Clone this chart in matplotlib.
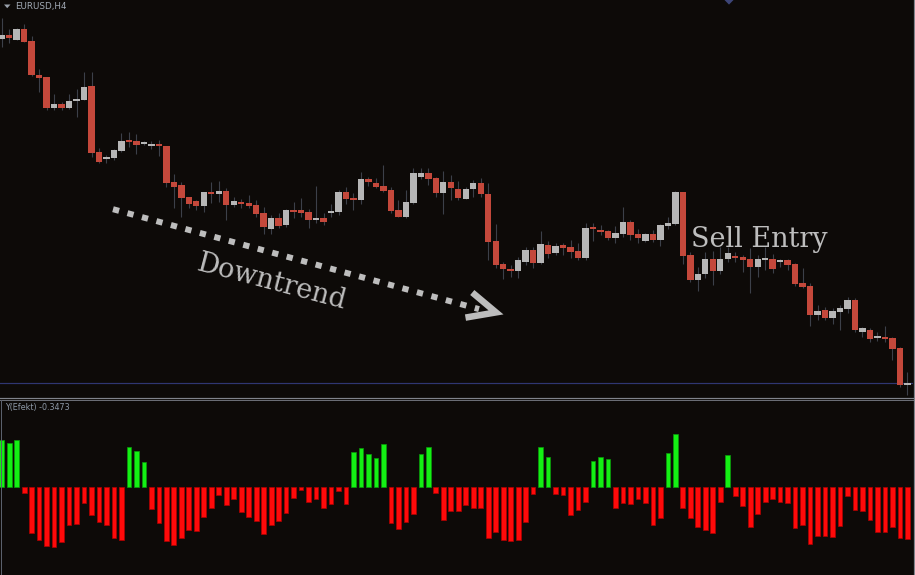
import numpy as np
import matplotlib
matplotlib.use("Agg")
import matplotlib.pyplot as plt
from matplotlib.lines import Line2D
from matplotlib.patches import Polygon

# ---------------- data ----------------
symbol_label = "EURUSD,H4"
indicator_label = "Y(Efekt) -0.3473"

opens = [1.1361, 1.1365, 1.1360, 1.1371, 1.1359, 1.1325, 1.1323, 1.1292, 1.1296, 1.1292,
         1.1299, 1.1300, 1.1314, 1.1248, 1.1241, 1.1242, 1.1249, 1.1259, 1.1259, 1.1256,
         1.1254, 1.1256, 1.1254, 1.1218, 1.1215, 1.1203, 1.1199, 1.1194, 1.1208, 1.1206,
         1.1209, 1.1195, 1.1197, 1.1197, 1.1195, 1.1187, 1.1171, 1.1182, 1.1175, 1.1190,
         1.1190, 1.1188, 1.1180, 1.1182, 1.1187, 1.1188, 1.1208, 1.1202, 1.1200, 1.1221,
         1.1217, 1.1214, 1.1210, 1.1190, 1.1183, 1.1197, 1.1223, 1.1227, 1.1222, 1.1207,
         1.1218, 1.1211, 1.1201, 1.1211, 1.1217, 1.1206, 1.1159, 1.1136, 1.1131, 1.1129,
         1.1138, 1.1150, 1.1137, 1.1155, 1.1147, 1.1155, 1.1153, 1.1149, 1.1142, 1.1172,
         1.1170, 1.1169, 1.1162, 1.1166, 1.1178, 1.1166, 1.1159, 1.1166, 1.1160, 1.1174,
         1.1176, 1.1208, 1.1145, 1.1120, 1.1126, 1.1141, 1.1129, 1.1141, 1.1144, 1.1143,
         1.1141, 1.1133, 1.1140, 1.1141, 1.1138, 1.1140, 1.1136, 1.1117, 1.1114, 1.1085,
         1.1090, 1.1082, 1.1088, 1.1091, 1.1100, 1.1068, 1.1070, 1.1062, 1.1063, 1.1062,
         1.1052, 1.1015]

closes = [1.1365, 1.1362, 1.1371, 1.1358, 1.1325, 1.1322, 1.1292, 1.1296, 1.1292, 1.1299,
          1.1301, 1.1313, 1.1247, 1.1238, 1.1243, 1.1250, 1.1259, 1.1258, 1.1255, 1.1258,
          1.1256, 1.1254, 1.1217, 1.1213, 1.1202, 1.1196, 1.1194, 1.1208, 1.1206, 1.1209,
          1.1195, 1.1199, 1.1196, 1.1194, 1.1186, 1.1173, 1.1182, 1.1174, 1.1190, 1.1188,
          1.1187, 1.1180, 1.1182, 1.1178, 1.1189, 1.1208, 1.1201, 1.1200, 1.1221, 1.1218,
          1.1213, 1.1209, 1.1189, 1.1183, 1.1198, 1.1227, 1.1227, 1.1221, 1.1207, 1.1218,
          1.1212, 1.1202, 1.1211, 1.1217, 1.1206, 1.1158, 1.1135, 1.1131, 1.1129, 1.1140,
          1.1150, 1.1137, 1.1156, 1.1146, 1.1154, 1.1152, 1.1148, 1.1142, 1.1172, 1.1171,
          1.1168, 1.1162, 1.1167, 1.1178, 1.1165, 1.1162, 1.1166, 1.1160, 1.1175, 1.1177,
          1.1208, 1.1144, 1.1120, 1.1126, 1.1141, 1.1129, 1.1141, 1.1147, 1.1142, 1.1140,
          1.1133, 1.1141, 1.1142, 1.1131, 1.1140, 1.1135, 1.1116, 1.1113, 1.1085, 1.1089,
          1.1082, 1.1089, 1.1092, 1.1100, 1.1070, 1.1072, 1.1061, 1.1063, 1.1061, 1.1051,
          1.1015, 1.1017]

highs = [1.1382, 1.1371, 1.1372, 1.1376, 1.1364, 1.1331, 1.1323, 1.1306, 1.1298, 1.1306,
         1.1311, 1.1328, 1.1328, 1.1252, 1.1245, 1.1251, 1.1267, 1.1268, 1.1266, 1.1259,
         1.1259, 1.1260, 1.1254, 1.1226, 1.1218, 1.1203, 1.1200, 1.1208, 1.1218, 1.1219,
         1.1212, 1.1203, 1.1201, 1.1205, 1.1200, 1.1193, 1.1185, 1.1187, 1.1191, 1.1198,
         1.1202, 1.1191, 1.1214, 1.1187, 1.1196, 1.1210, 1.1213, 1.1207, 1.1228, 1.1223,
         1.1222, 1.1235, 1.1213, 1.1200, 1.1210, 1.1232, 1.1232, 1.1232, 1.1223, 1.1229,
         1.1225, 1.1219, 1.1213, 1.1220, 1.1222, 1.1217, 1.1176, 1.1138, 1.1135, 1.1143,
         1.1153, 1.1153, 1.1169, 1.1159, 1.1157, 1.1157, 1.1160, 1.1157, 1.1177, 1.1177,
         1.1175, 1.1170, 1.1174, 1.1193, 1.1180, 1.1171, 1.1167, 1.1170, 1.1176, 1.1183,
         1.1209, 1.1208, 1.1148, 1.1133, 1.1148, 1.1149, 1.1153, 1.1153, 1.1148, 1.1145,
         1.1152, 1.1145, 1.1153, 1.1146, 1.1141, 1.1141, 1.1137, 1.1132, 1.1117, 1.1095,
         1.1093, 1.1092, 1.1095, 1.1103, 1.1102, 1.1073, 1.1072, 1.1068, 1.1074, 1.1063,
         1.1053, 1.1028]

lows = [1.1353, 1.1357, 1.1360, 1.1358, 1.1324, 1.1308, 1.1290, 1.1290, 1.1290, 1.1291,
        1.1283, 1.1300, 1.1243, 1.1237, 1.1237, 1.1240, 1.1248, 1.1253, 1.1246, 1.1255,
        1.1251, 1.1244, 1.1213, 1.1192, 1.1183, 1.1192, 1.1190, 1.1188, 1.1197, 1.1198,
        1.1180, 1.1193, 1.1192, 1.1192, 1.1183, 1.1166, 1.1166, 1.1172, 1.1173, 1.1182,
        1.1183, 1.1172, 1.1177, 1.1175, 1.1183, 1.1185, 1.1196, 1.1190, 1.1196, 1.1214,
        1.1212, 1.1208, 1.1187, 1.1183, 1.1182, 1.1196, 1.1221, 1.1215, 1.1203, 1.1186,
        1.1200, 1.1200, 1.1201, 1.1203, 1.1203, 1.1140, 1.1132, 1.1121, 1.1123, 1.1122,
        1.1135, 1.1132, 1.1136, 1.1142, 1.1145, 1.1145, 1.1142, 1.1140, 1.1140, 1.1159,
        1.1165, 1.1160, 1.1157, 1.1163, 1.1160, 1.1157, 1.1158, 1.1158, 1.1154, 1.1171,
        1.1175, 1.1136, 1.1118, 1.1109, 1.1122, 1.1115, 1.1126, 1.1138, 1.1138, 1.1128,
        1.1107, 1.1123, 1.1130, 1.1127, 1.1133, 1.1130, 1.1114, 1.1112, 1.1074, 1.1080,
        1.1080, 1.1076, 1.1070, 1.1087, 1.1068, 1.1063, 1.1058, 1.1059, 1.1058, 1.1040,
        1.1013, 1.1005]

efekt = [0.3161, 0.2983, 0.3161, -0.0356, -0.3072, -0.3540, -0.3918, -0.3985, -0.3651, -0.2538,
         -0.2426, -0.1046, -0.1848, -0.2293, -0.2538, -0.3361, -0.3540, 0.2716, 0.2404, 0.1670,
         -0.1469, -0.2404, -0.3584, -0.3873, -0.3361, -0.2872, -0.2916, -0.1981, -0.1358, -0.0490,
         -0.1202, -0.0801, -0.1670, -0.1981, -0.2226, -0.3139, -0.2538, -0.2226, -0.1736, -0.0735,
         -0.0178, -0.0980, -0.0801, -0.1358, -0.1113, -0.0245, -0.1113, 0.2337, 0.2605, 0.2204,
         0.1937, 0.2894, -0.2404, -0.2805, -0.2293, -0.1781, 0.2204, 0.2716, -0.0356, -0.2159,
         -0.1603, -0.1558, -0.1158, -0.1358, -0.1402, -0.3406, -0.2961, -0.3495, -0.3606, -0.3495,
         -0.2337, -0.0423, 0.2716, 0.2026, -0.0423, -0.0490, -0.1848, -0.1492, -0.0980, 0.1781,
         0.2026, 0.1914, -0.1358, -0.1046, -0.1113, -0.0801, -0.1046, -0.2538, -0.2048, 0.2271,
         0.3540, -0.1358, -0.2048, -0.2671, -0.2849, -0.3027, -0.0980, 0.2159, -0.0557, -0.1224,
         -0.2671, -0.1781, -0.0980, -0.0801, -0.0980, -0.1046, -0.2738, -0.2538, -0.3784, -0.3228,
         -0.3228, -0.3295, -0.2604, -0.0601, -0.1492, -0.1603, -0.2159, -0.2961, -0.2961, -0.2671,
         -0.3406, -0.3473]

# ---------------- style ----------------
BG = "#0d0a08"
BEAR = "#c4483b"
BULL = "#b6b6b6"
WICK = "#3c4049"
GREEN = "#14f014"
GREEN_EDGE = "#0a9a0a"
RED = "#ff0a0a"
RED_EDGE = "#b00000"
FRAME = "#80838b"
ANNOT = "#bdbdbd"

W, H = 915, 575
fig = plt.figure(figsize=(W / 100, H / 100), dpi=100, facecolor=BG)


def fx(x):
    return x / W


def fy(y):
    return 1 - y / H


PX = 0.72  # one pixel in points

# ---------------- main price panel ----------------
ax = fig.add_axes([0, fy(397), 913 / W, 397 / H])
ax.axis("off")
o = np.array(opens)
c = np.array(closes)
hi = np.array(highs)
lo = np.array(lows)
x = np.arange(len(o))
ax.set_xlim(-0.227, 121.75)
ax.set_ylim(1.1003, 1.1400)

ax.vlines(x, lo, hi, color=WICK, lw=1.1 * PX, zorder=2)
bull = c >= o
body_bottom = np.minimum(o, c)
body_h = np.maximum(np.abs(c - o), 0.00016)
ax.bar(x, body_h, bottom=body_bottom, width=0.85,
       color=np.where(bull, BULL, BEAR), edgecolor="none", zorder=3)

# current price line
ax.axhline(c[-1], color="#2f3672", lw=1.2 * PX, zorder=1)

# dotted "downtrend" arrow
ax.plot([14.87, 63.77], [1.11908, 1.10909], color=ANNOT, lw=6.0 * PX,
        linestyle=(0, (1.05, 1.45)), dash_capstyle="butt", zorder=4)
ax.plot([61.96, 66.04, 62.87], [1.10824, 1.10876, 1.11075], color=ANNOT,
        lw=6.5 * PX, solid_joinstyle="miter", solid_capstyle="butt", zorder=4)

fig.text(fx(271.5), fy(282), "Downtrend", family="DejaVu Serif", fontsize=19.5,
         color=ANNOT, rotation=-14.8, rotation_mode="anchor", ha="center", va="center")
fig.text(fx(691), fy(246.7), "Sell Entry", family="DejaVu Serif", fontsize=19.5,
         color=ANNOT, ha="left", va="baseline")

# ---------------- indicator panel ----------------
ax2 = fig.add_axes([0, 0, 913 / W, 175 / H])
ax2.axis("off")
v = np.array(efekt)
xi = np.arange(len(v))
ax2.set_xlim(-0.227, 121.75)
ax2.set_ylim(-0.586, 0.583)
pos = v >= 0
ax2.bar(xi, v, width=0.63, color=np.where(pos, GREEN, RED),
        edgecolor=np.where(pos, GREEN_EDGE, RED_EDGE), linewidth=0.7 * PX)

# ---------------- frame / labels ----------------
fig.add_artist(Line2D([0, fx(913)], [fy(397.5), fy(397.5)], transform=fig.transFigure,
                      color=FRAME, lw=1.2 * PX))
fig.add_artist(Line2D([0, fx(913)], [fy(399.5), fy(399.5)], transform=fig.transFigure,
                      color="#6a6d75", lw=1.0 * PX))
fig.add_artist(Line2D([fx(913.5), fx(913.5)], [0, 1], transform=fig.transFigure,
                      color=FRAME, lw=1.2 * PX))
fig.add_artist(Line2D([fx(0.5), fx(0.5)], [0, fy(399.5)], transform=fig.transFigure,
                      color="#5a606c", lw=1.0 * PX))
for ty in (24, 55):
    fig.add_artist(Line2D([fx(913.5), fx(915)], [fy(ty), fy(ty)], transform=fig.transFigure,
                          color=FRAME, lw=1.0 * PX))

fig.add_artist(Polygon([[fx(4), fy(4.5)], [fx(10.5), fy(4.5)], [fx(7.2), fy(8.2)]],
                       closed=True, transform=fig.transFigure, color="#9aa1ab", lw=0))
fig.add_artist(Polygon([[fx(724.5), fy(0)], [fx(733.5), fy(0)], [fx(729), fy(4.6)]],
                       closed=True, transform=fig.transFigure, color="#3d4577", lw=0))
fig.text(fx(15), fy(6.5), symbol_label, fontsize=6.3, color="#a3abb6",
         ha="left", va="center", family="DejaVu Sans")
fig.text(fx(5), fy(407.5), indicator_label, fontsize=5.8, color="#8e99a7",
         ha="left", va="center", family="DejaVu Sans")

fig.savefig("out.png", dpi=100, facecolor=BG)
